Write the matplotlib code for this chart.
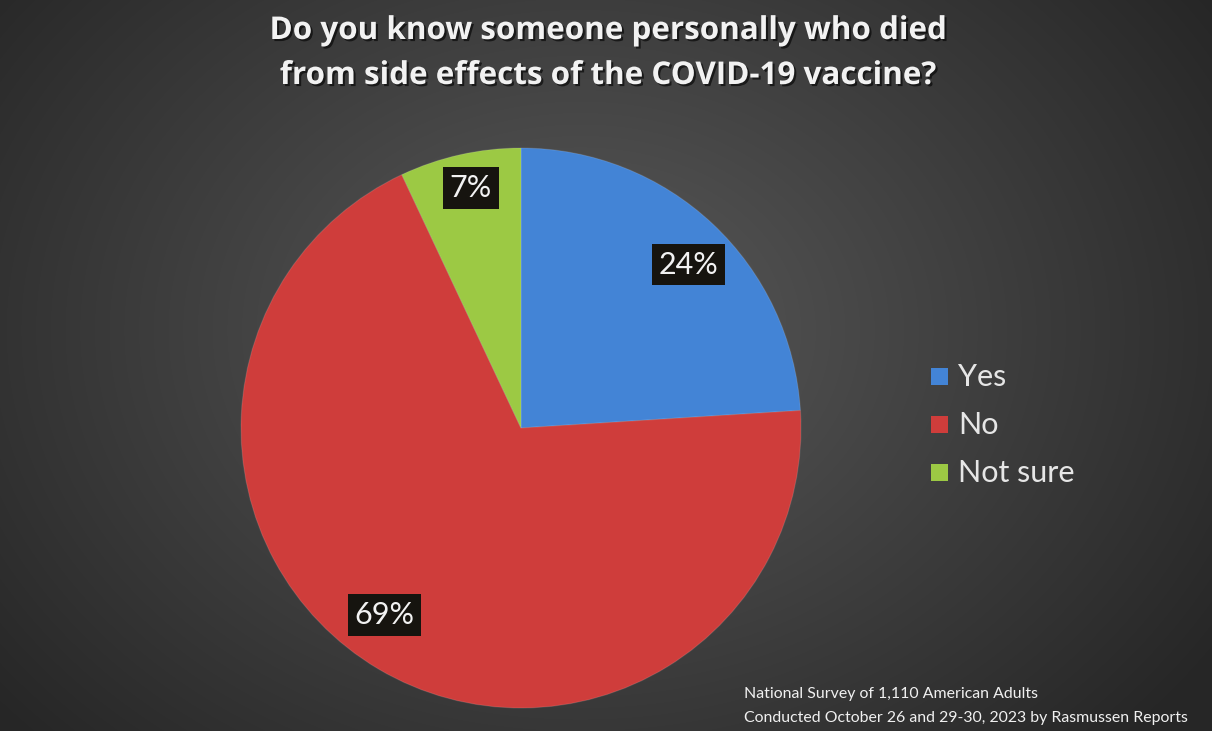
import numpy as np
import matplotlib
matplotlib.use("Agg")
import matplotlib.pyplot as plt
import matplotlib.patheffects as pe

# ---- data ----
categories = ["Yes", "No", "Not sure"]
values = [24, 69, 7]
colors = ["#4384d6", "#cf3d3b", "#9cc944"]
title_lines = ["Do you know someone personally who died",
               "from side effects of the COVID-19 vaccine?"]
footnote_lines = ["National Survey of 1,110 American Adults",
                  "Conducted October 26 and 29-30, 2023 by Rasmussen Reports"]

W, H = 1212, 731
fig = plt.figure(figsize=(W / 100, H / 100), dpi=100)

# background radial gradient
bg = fig.add_axes([0, 0, 1, 1])
yy, xx = np.mgrid[0:H, 0:W]
d = np.sqrt(((xx - 580) / 900.0) ** 2 + ((yy - 330) / 700.0) ** 2)
d = np.clip(d / 0.85, 0, 1)
c0 = np.array([0x5a, 0x5a, 0x5a]) / 255.0
c1 = np.array([0x26, 0x26, 0x26]) / 255.0
img = c0[None, None, :] * (1 - d[..., None]) + c1[None, None, :] * d[..., None]
bg.imshow(img, extent=[0, W, 0, H], origin="upper", aspect="auto")
bg.set_xlim(0, W)
bg.set_ylim(0, H)
bg.axis("off")

# pie axes: center (521,428) radius 280 px
cx, cy, r = 521, 428, 280
ax = fig.add_axes([(cx - r) / W, (H - cy - r) / H, 2 * r / W, 2 * r / H])

wedges, texts = ax.pie(values, colors=colors, startangle=90, counterclock=False,
                       radius=1.0, center=(0, 0),
                       wedgeprops=dict(edgecolor=(1, 1, 1, 0.12), linewidth=0.8))
ax.set_xlim(-1, 1)
ax.set_ylim(-1, 1)
ax.set_aspect("equal")
ax.axis("off")

# percentage labels (radius fraction, angular offset in degrees)
label_pos = [(0.835, -2.5), (0.826, -5.5), (0.876, -0.8)]
total = float(sum(values))
start = 90.0
for val, w, (rf, off) in zip(values, wedges, label_pos):
    span = 360.0 * val / total
    mid = np.deg2rad(start - span / 2 + off)
    start -= span
    ax.text(rf * np.cos(mid), rf * np.sin(mid), f"{val}%",
            ha="center", va="center", fontsize=22, color="#f2f2f2",
            family=["Lato", "DejaVu Sans"],
            bbox=dict(boxstyle="square,pad=0.22", facecolor="#16140f", edgecolor="none"))

# title
for i, line in enumerate(title_lines):
    fig.text(608 / W, 1 - (31 + 45 * i) / H, line, ha="center", va="center",
             fontsize=22.6, fontweight="bold", color="#f2f2f2",
             family=["Open Sans", "DejaVu Sans"],
             path_effects=[pe.withSimplePatchShadow(offset=(1.5, -1.5), shadow_rgbFace="black", alpha=0.6)])

# legend
leg_y = [377, 425, 473]
for lab, col, y in zip(categories, colors, leg_y):
    bg.add_patch(plt.Rectangle((931, H - y - 8), 17, 17, facecolor=col, edgecolor="none"))
    bg.text(958, H - y, lab, ha="left", va="center", fontsize=22, color="#e6e6e6",
            family=["Lato", "DejaVu Sans"])

# footnote
for i, line in enumerate(footnote_lines):
    fig.text(744 / W, 1 - (694 + 24 * i) / H, line, ha="left", va="center",
             fontsize=11.4, color="#f0f0f0", family=["Lato", "DejaVu Sans"])

fig.savefig("out.png", dpi=100)
